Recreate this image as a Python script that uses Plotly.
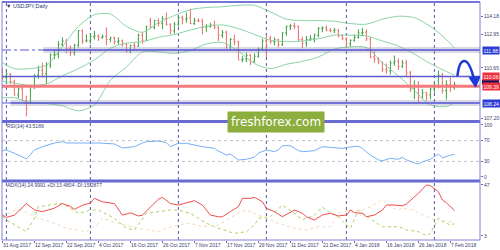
import plotly.graph_objects as go

# ---------------- data ----------------
bar_idx = list(range(114))
tick_idx = [0, 8, 16, 24, 32, 40, 48, 56, 64, 72, 80, 88, 96, 104, 112]
tick_text = ["31 Aug 2017", "12 Sep 2017", "22 Sep 2017", "4 Oct 2017", "16 Oct 2017",
             "26 Oct 2017", "7 Nov 2017", "17 Nov 2017", "29 Nov 2017", "11 Dec 2017",
             "21 Dec 2017", "4 Jan 2018", "16 Jan 2018", "26 Jan 2018", "7 Feb 2018"]
month_starts = [1, 22, 44, 66, 86, 108]

opens = [110.30, 110.00, 110.20, 109.70, 108.80, 109.20, 108.40, 108.20, 109.40, 110.15,
         110.50, 110.25, 110.85, 111.55, 111.60, 112.25, 112.50, 112.00, 111.70, 112.20,
         113.20, 112.50, 112.50, 112.80, 112.85, 112.75, 112.80, 112.60, 112.70, 112.45,
         112.50, 112.30, 111.80, 112.20, 112.15, 112.90, 112.55, 113.90, 113.45, 113.90,
         113.70, 114.05, 113.65, 113.20, 113.65, 114.10, 114.00, 114.10, 113.70, 113.90,
         113.85, 113.45, 113.50, 113.60, 113.45, 112.90, 113.10, 112.10, 112.60, 112.45,
         111.20, 111.25, 111.50, 111.10, 111.45, 111.95, 112.50, 112.70, 112.45, 112.60,
         112.25, 113.05, 113.50, 113.55, 113.50, 112.60, 112.35, 112.60, 112.65, 112.90,
         113.35, 113.40, 113.25, 113.20, 113.25, 112.85, 112.65, 112.30, 112.55, 112.75,
         113.05, 113.10, 112.65, 111.40, 111.25, 111.05, 110.55, 110.45, 111.00, 111.10,
         110.75, 111.00, 110.30, 109.20, 109.40, 108.60, 108.95, 108.80, 109.20, 109.40,
         110.15, 109.10, 109.50, 109.30]
highs = [110.65, 110.50, 110.30, 109.85, 109.45, 109.35, 108.75, 109.50, 110.20, 110.80,
         111.00, 111.05, 111.65, 111.90, 112.50, 112.75, 112.65, 112.20, 112.30, 113.25,
         113.30, 112.95, 113.05, 113.20, 112.95, 112.95, 113.43, 112.80, 112.80, 112.75,
         112.60, 112.35, 112.25, 112.40, 113.00, 113.10, 113.55, 114.10, 113.95, 114.05,
         114.20, 114.45, 113.70, 113.80, 114.20, 114.25, 114.45, 114.73, 114.10, 114.05,
         114.05, 113.65, 113.75, 113.90, 113.50, 113.25, 113.20, 112.70, 112.95, 112.50,
         111.45, 111.70, 111.60, 111.65, 112.05, 112.65, 112.90, 112.85, 112.75, 112.65,
         113.10, 113.55, 113.65, 113.75, 113.55, 112.80, 112.85, 112.90, 113.00, 113.45,
         113.50, 113.55, 113.40, 113.40, 113.30, 112.95, 112.75, 112.60, 112.95, 113.30,
         113.40, 113.30, 112.75, 111.80, 111.40, 111.10, 110.95, 111.15, 111.50, 111.30,
         111.20, 111.20, 110.45, 109.80, 109.75, 109.20, 109.00, 109.30, 109.70, 110.48,
         110.30, 109.80, 110.00, 109.70]
lows = [109.85, 109.60, 109.55, 108.75, 108.55, 108.35, 107.32, 108.20, 109.20, 109.90,
        110.00, 109.55, 110.65, 111.25, 111.30, 112.10, 111.65, 111.45, 111.50, 112.05,
        112.30, 112.40, 112.30, 112.60, 112.50, 112.65, 112.20, 112.40, 112.25, 112.25,
        112.10, 111.70, 111.65, 111.90, 112.10, 112.30, 112.50, 113.35, 113.30, 113.50,
        113.30, 113.55, 112.95, 113.00, 113.50, 113.65, 113.75, 113.65, 113.60, 113.80,
        112.95, 113.10, 113.40, 113.30, 112.50, 112.70, 111.95, 111.85, 112.20, 111.20,
        111.05, 111.05, 110.84, 111.00, 111.35, 111.90, 111.40, 112.30, 112.20, 112.05,
        112.15, 112.85, 113.25, 113.30, 112.45, 112.00, 112.10, 112.50, 112.40, 112.75,
        113.10, 113.15, 113.10, 113.05, 112.75, 112.55, 112.05, 112.10, 112.45, 112.65,
        112.85, 112.50, 111.30, 111.00, 110.90, 110.35, 110.25, 110.20, 110.80, 110.50,
        110.65, 110.10, 109.00, 108.50, 108.28, 108.50, 108.40, 108.50, 108.95, 109.25,
        108.90, 108.47, 109.00, 109.15]
closes = [110.00, 110.25, 109.70, 108.80, 109.20, 108.40, 107.85, 109.40, 110.15, 110.50,
          110.25, 110.85, 111.55, 111.60, 112.25, 112.50, 111.98, 111.70, 112.20, 113.20,
          112.50, 112.55, 112.80, 112.85, 112.75, 112.80, 112.60, 112.70, 112.45, 112.50,
          112.30, 111.80, 112.20, 112.15, 112.90, 112.55, 113.50, 113.45, 113.90, 113.70,
          114.05, 113.65, 113.20, 113.65, 114.10, 114.00, 114.05, 113.70, 113.90, 113.85,
          113.45, 113.50, 113.60, 113.45, 112.90, 113.10, 112.10, 112.60, 112.45, 111.20,
          111.25, 111.50, 111.10, 111.45, 111.95, 112.50, 112.15, 112.45, 112.60, 112.25,
          113.05, 113.50, 113.55, 113.50, 112.60, 112.35, 112.60, 112.65, 112.90, 113.35,
          113.40, 113.25, 113.20, 113.25, 112.85, 112.65, 112.30, 112.55, 112.75, 113.05,
          113.10, 112.65, 111.40, 111.25, 111.05, 110.55, 110.45, 111.00, 111.10, 110.75,
          111.00, 110.30, 109.20, 109.40, 108.60, 108.95, 108.80, 109.20, 109.40, 110.15,
          109.10, 109.50, 109.30, 109.50]

bb_idx = [0, 3, 7, 11, 15, 19, 23, 27, 31, 35, 39, 43, 47, 51, 55, 59, 63, 67, 71, 75,
          79, 83, 87, 91, 95, 99, 103, 107, 111, 113]
bb_upper = [111.0, 110.6, 110.6, 110.85, 112.1, 113.5, 114.3, 114.35, 113.5, 113.1,
            113.75, 114.25, 114.65, 114.8, 114.85, 114.95, 114.95, 114.5, 114.0, 113.9,
            113.9, 113.85, 113.7, 113.65, 114.0, 114.2, 114.1, 113.5, 112.6, 112.0]
bb_mid = [109.75, 109.6, 109.45, 109.55, 110.1, 110.6, 111.2, 112.0, 112.35, 112.45,
          112.75, 112.95, 113.25, 113.5, 113.6, 113.35, 112.95, 112.55, 112.45, 112.5,
          112.65, 112.9, 112.9, 112.85, 112.5, 112.15, 111.6, 110.95, 110.4, 110.15]
bb_lower = [108.6, 108.6, 108.25, 108.2, 108.05, 107.7, 108.1, 109.8, 110.7, 111.75,
            111.75, 111.65, 111.85, 112.3, 112.4, 111.8, 110.95, 110.6, 110.9, 111.1,
            111.4, 111.95, 112.1, 112.05, 111.0, 110.1, 109.1, 108.1, 108.0, 108.25]

# RSI(14)
rsi_idx = [0, 1, 4, 6, 8, 10, 13, 15, 16, 19, 21, 24, 28, 30, 33, 35, 36, 39, 41, 42,
           44, 46, 48, 50, 53, 54, 56, 57, 59, 61, 63, 64, 66, 68, 69, 70, 72, 74, 75, 78,
           80, 82, 84, 85, 87, 89, 90, 92, 94, 95, 97, 99, 100, 101, 103, 104, 105, 107,
           109, 110, 112, 113]
rsi_val = [50.6, 52, 42.3, 34.6, 52, 58.3, 65.4, 67.9, 65.4, 66, 65.4, 65.4, 63.5, 55.8,
           58.3, 65.4, 67.9, 69.2, 66, 58.3, 64.8, 64.8, 61.5, 58.3, 55.2, 50, 42.3, 44.2,
           32.7, 34, 37.9, 46, 52, 48.7, 52, 60.2, 60.2, 50.6, 48.7, 50.6, 58.3, 57.1, 57,
           55, 58, 59, 55, 42, 33, 31, 36, 34, 38, 33, 27, 25, 29, 34, 44, 37, 42, 43.5]

# ADX(14)
adx_idx = [0, 1, 3, 6, 8, 10, 13, 15, 17, 18, 20, 22, 23, 25, 28, 30, 32, 34, 35, 37,
           39, 40, 42, 44, 45, 48, 50, 52, 54, 55, 57, 59, 60, 62, 63, 65, 66, 68, 70, 73,
           75, 76, 78, 80, 82, 84, 86, 87, 88, 90, 91, 93, 95, 96, 98, 100, 101, 104, 106,
           107, 109, 110, 111, 113]
adx_val = [21, 19, 21, 31, 25.5, 24, 27, 31, 28.5, 26, 29.5, 31.5, 35.5, 32.5, 31, 21,
           23, 20.3, 21, 28, 34.7, 36.4, 31, 29.7, 30.6, 33.5, 29.7, 21.1, 19.6, 19.6, 24,
           28.3, 35.5, 35.5, 36.4, 32.6, 26.9, 24, 19.6, 25.4, 22.6, 19.6, 16.8, 21.1, 22.6,
           20.3, 21.1, 25.4, 23.1, 22.6, 19.6, 21.1, 25.4, 29.7, 29.7, 29.1, 30.6, 39.8, 47,
           46.5, 41.2, 34.1, 31.7, 25.0]
pdi_idx = [0, 1, 6, 8, 9, 15, 19, 22, 24, 28, 31, 33, 36, 39, 42, 44, 47, 51, 54, 58,
           61, 63, 64, 67, 70, 73, 75, 78, 80, 82, 84, 86, 87, 89, 90, 93, 95, 99, 101,
           104, 106, 107, 109, 110, 112, 113]
pdi_val = [19.7, 16.8, 6.7, 18.3, 28.3, 31.2, 22.6, 25.4, 25.4, 18.3, 9.6, 8.2, 22.6,
           24, 25.4, 25.4, 22.6, 14, 9.6, 5.3, 6.7, 12.5, 18.3, 19.7, 29.7, 22.6, 17, 21,
           28, 23, 19.7, 12.5, 9.6, 25.4, 22.6, 15.4, 11, 11, 8.2, 6.7, 3.2, 5.3, 18.3,
           15.4, 12.5, 13.5]
mdi_idx = [0, 3, 5, 8, 13, 16, 21, 24, 25, 29, 34, 39, 41, 44, 47, 50, 54, 56, 59, 61,
           64, 66, 69, 73, 76, 79, 82, 84, 87, 89, 90, 92, 94, 95, 97, 99, 100, 103, 104,
           106, 108, 109, 111, 113]
mdi_val = [19.7, 25.4, 25.4, 19.7, 14, 9.6, 6.7, 14, 18.3, 14, 9.6, 6.7, 9.6, 12.5, 14,
           11, 12.5, 16.8, 22.6, 25.4, 21.1, 18.3, 14, 9.6, 8.2, 11, 11, 22.6, 25.4, 25.4,
           25.4, 28.3, 32.5, 34.1, 28.3, 25.4, 27, 25.4, 22.6, 19.7, 16.8, 18.3, 15.4, 15.3]

levels_blue = [111.88, 108.24]
level_mid = 110.06
level_red = 109.39
bid_price = 109.80
price_ticks = [114.18, 112.95, 110.65, 107.20]

# ---------------- figure ----------------
FONT = "Liberation Sans"
BLUE = "#6a6ad2"
TXT = "#404068"

fig = go.Figure()
for xs, ys in [(bb_idx, bb_upper), (bb_idx, bb_mid), (bb_idx, bb_lower)]:
    fig.add_trace(go.Scatter(x=xs, y=ys, mode="lines", xaxis="x", yaxis="y",
                             line=dict(color="#8ad4a4", width=1, shape="spline", smoothing=0.8),
                             hoverinfo="skip"))
fig.add_trace(go.Ohlc(x=bar_idx, open=opens, high=highs, low=lows, close=closes,
                      xaxis="x", yaxis="y", tickwidth=0.3,
                      increasing=dict(line=dict(color="#3f9e42", width=1)),
                      decreasing=dict(line=dict(color="#f26b6b", width=1))))
fig.add_trace(go.Scatter(x=rsi_idx, y=rsi_val, mode="lines", xaxis="x", yaxis="y2",
                         line=dict(color="#74b0f4", width=1)))
fig.add_trace(go.Scatter(x=pdi_idx, y=pdi_val, mode="lines", xaxis="x", yaxis="y3",
                         line=dict(color="#a8d060", width=1, dash="dot")))
fig.add_trace(go.Scatter(x=mdi_idx, y=mdi_val, mode="lines", xaxis="x", yaxis="y3",
                         line=dict(color="#f5d8b8", width=1, dash="dot")))
fig.add_trace(go.Scatter(x=adx_idx, y=adx_val, mode="lines", xaxis="x", yaxis="y3",
                         line=dict(color="#f04c4c", width=1)))

shapes = []
for m in month_starts:
    shapes.append(dict(type="line", xref="x", yref="paper", x0=m, x1=m, y0=0, y1=1,
                       line=dict(color="#5858a8", width=1, dash="dot"), layer="below"))
for lv in [70, 30]:
    shapes.append(dict(type="line", xref="paper", yref="y2", x0=0, x1=1, y0=lv, y1=lv,
                       line=dict(color="#c4c4c4", width=1, dash="dot"), layer="below"))
starts = [10.2, 2.0]
for lv, st in zip(levels_blue, starts):
    shapes.append(dict(type="line", xref="x", yref="y", x0=-0.1, x1=st, y0=lv, y1=lv,
                       line=dict(color="#5858d8", width=1, dash="dashdot")))
    shapes.append(dict(type="line", xref="x", yref="y", x0=st, x1=119.4, y0=lv, y1=lv,
                       line=dict(color="rgba(150,150,175,0.35)", width=6)))
    shapes.append(dict(type="line", xref="x", yref="y", x0=st, x1=119.4, y0=lv, y1=lv,
                       line=dict(color="#5050d8", width=1.6)))
shapes.append(dict(type="line", xref="paper", yref="y", x0=0, x1=1, y0=level_mid, y1=level_mid,
                   line=dict(color="#5c5cd0", width=1.5)))
shapes.append(dict(type="line", xref="paper", yref="y", x0=0, x1=1, y0=level_red, y1=level_red,
                   line=dict(color="#f27a7a", width=3)))
shapes.append(dict(type="line", xref="paper", yref="paper", x0=0, x1=1, y0=0.498, y1=0.498,
                   line=dict(color=BLUE, width=3)))
shapes.append(dict(type="line", xref="paper", yref="paper", x0=0, x1=1, y0=0.2479, y1=0.2479,
                   line=dict(color=BLUE, width=3)))
shapes.append(dict(type="line", xref="paper", yref="paper", x0=0, x1=1, y0=1, y1=1,
                   line=dict(color=BLUE, width=2)))
shapes.append(dict(type="rect", xref="paper", yref="paper", x0=0, x1=1, y0=0, y1=1,
                   line=dict(color="#8080d4", width=1)))
# bid price marker box partly hidden behind the level boxes (drawn as plain shape)
shapes.append(dict(type="rect", xref="paper", yref="y", x0=1.004, x1=1.04,
                   y0=bid_price - 0.3, y1=bid_price + 0.05, fillcolor="#14145a",
                   line=dict(width=0), layer="above"))
shapes.append(dict(type="path", xref="x", yref="y",
                   path="M 113.75,110.09 C 114.3,111.4 116.4,111.6 117.9,109.85",
                   line=dict(color="#1e3ad6", width=2.5)))
shapes.append(dict(type="path", xref="x", yref="y",
                   path="M 116.7,109.98 L 119.4,110.05 L 118.3,109.33 Z",
                   fillcolor="#1e3ad6", line=dict(color="#1e3ad6", width=1)))

ann = []
ann.append(dict(text="▼ USDJPY,Daily", xref="paper", yref="paper", x=0.004, y=0.983,
                xanchor="left", yanchor="middle", showarrow=False,
                font=dict(family=FONT, size=5.5, color="#303078")))
ann.append(dict(text="RSI(14) 43.5189", xref="paper", yref="paper", x=0.006, y=0.479,
                xanchor="left", yanchor="middle", showarrow=False,
                font=dict(family=FONT, size=5, color="#404078")))
ann.append(dict(text="ADX(14) 24.9991 +DI:13.4804 -DI:15.2877", xref="paper", yref="paper",
                x=0.006, y=0.231, xanchor="left", yanchor="middle", showarrow=False,
                font=dict(family=FONT, size=5, color="#404078")))
ann.append(dict(text="freshforex.com", xref="paper", yref="paper", x=0.574, y=0.4937,
                xanchor="center", yanchor="middle", showarrow=False, bgcolor="#8cae3c",
                borderpad=3, font=dict(family="DejaVu Sans", size=12, color="white")))
boxes = [(levels_blue[0], "111.88", "#2a3cd2"), (level_mid, "110.06", "#ec2f3c"),
         (level_red, "109.39", "#ec2f3c"), (levels_blue[1], "108.24", "#2a3cd2")]
for p, t, c in boxes:
    ann.append(dict(text=t, xref="paper", yref="y", x=1.004, y=p, xanchor="left",
                    yanchor="middle", showarrow=False, bgcolor=c, borderpad=0.5,
                    font=dict(family=FONT, size=5, color="white")))

axis_font = dict(family=FONT, size=5, color=TXT)
fig.update_layout(
    width=500, height=250, margin=dict(l=2, r=20, t=2, b=10, autoexpand=False),
    paper_bgcolor="white", plot_bgcolor="white", showlegend=False, hovermode=False,
    shapes=shapes, annotations=ann,
    xaxis=dict(domain=[0, 1], range=[-0.1, 119.4], anchor="y3", showgrid=False,
               zeroline=False, tickvals=tick_idx, ticktext=tick_text, tickangle=0,
               ticklabelposition="outside right", ticks="outside", ticklen=2,
               tickcolor=BLUE, tickfont=axis_font, rangeslider=dict(visible=False),
               showline=False, automargin=False),
    yaxis=dict(domain=[0.5, 1], range=[107.004, 115.177], side="right", anchor="x",
               tickvals=price_ticks, ticktext=["%.2f" % v for v in price_ticks],
               ticks="outside", ticklen=2, tickcolor=BLUE, showgrid=False, zeroline=False,
               tickfont=axis_font, automargin=False),
    yaxis2=dict(domain=[0.2521, 0.4958], range=[-5.77, 105.77], side="right", anchor="x",
                tickvals=[100, 70, 30, 0], ticks="outside", ticklen=2, tickcolor=BLUE,
                showgrid=False, zeroline=False, tickfont=axis_font, automargin=False),
    yaxis3=dict(domain=[0, 0.2437], range=[-0.45, 49.59], side="right", anchor="x",
                tickvals=[47, 3], ticks="outside", ticklen=2, tickcolor=BLUE,
                showgrid=False, zeroline=False, tickfont=axis_font, automargin=False),
)
fig.write_html("out.html")
